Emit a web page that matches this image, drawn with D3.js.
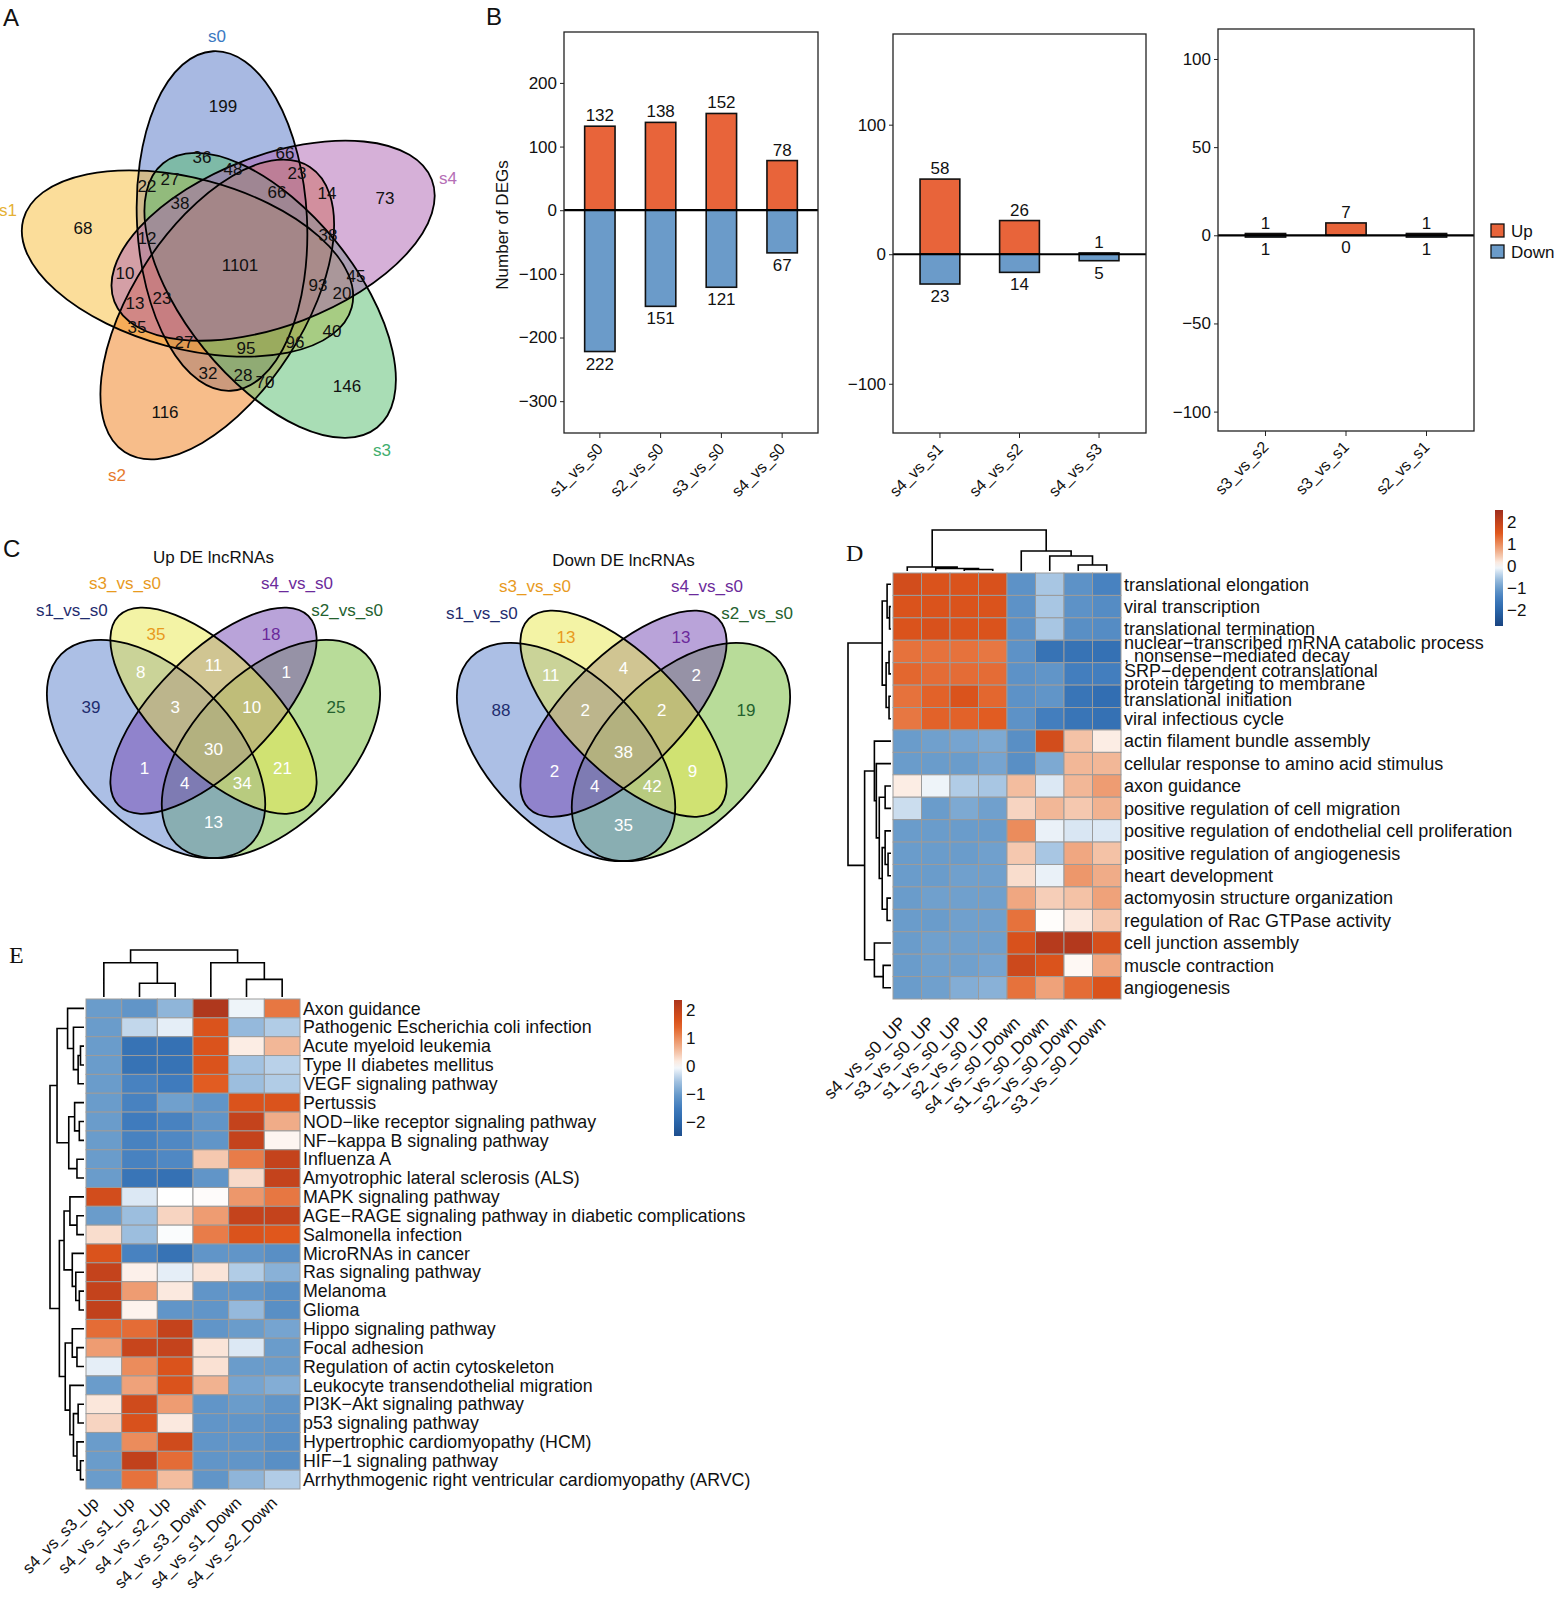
<!DOCTYPE html>
<html lang="en">
<head>
  <meta charset="UTF-8">
  <title>DEG overview</title>
  <script src="https://cdn.jsdelivr.net/npm/d3@7"></script>
  <style>
    body { margin: 0; background: #fff; }
    svg text { font-family: "Liberation Sans", Arial, sans-serif; fill: #111; }
    .letter { font-size: 24px; }
    .serif { font-family: "Liberation Serif", "Times New Roman", serif !important; }
    .axis path { display: none; }
    .axis line { stroke: #222; }
  </style>
</head>
<body>
<svg width="1558" height="1600"></svg>
<script>
// ---------------- data ----------------
// A: five-set venn (region counts, read top to bottom)
var setsA = ["s0", "s4", "s3", "s2", "s1"];
var countsA = [199, 36, 66, 48, 23, 22, 27, 66, 14, 73, 38, 68, 38, 12, 1101, 10, 45, 93, 20, 13, 23, 35, 40, 27, 95, 96, 32, 28, 70, 146, 116];

// B: DEG counts
var groupsB1 = ["s1_vs_s0", "s2_vs_s0", "s3_vs_s0", "s4_vs_s0"];
var upB1 = [132, 138, 152, 78];
var downB1 = [222, 151, 121, 67];
var groupsB2 = ["s4_vs_s1", "s4_vs_s2", "s4_vs_s3"];
var upB2 = [58, 26, 1];
var downB2 = [23, 14, 5];
var groupsB3 = ["s3_vs_s2", "s3_vs_s1", "s2_vs_s1"];
var upB3 = [1, 7, 1];
var downB3 = [1, 0, 1];

// C: four-set venns (VennDiagram region order)
var setsC = ["s1_vs_s0", "s3_vs_s0", "s4_vs_s0", "s2_vs_s0"];
var upC = [35, 11, 18, 8, 3, 30, 10, 1, 39, 1, 4, 13, 34, 21, 25];
var downC = [13, 4, 13, 11, 2, 38, 2, 2, 88, 2, 4, 35, 42, 9, 19];

// D: GO heatmap
var colsD = ["s4_vs_s0_UP", "s3_vs_s0_UP", "s1_vs_s0_UP", "s2_vs_s0_UP", "s4_vs_s0_Down", "s1_vs_s0_Down", "s2_vs_s0_Down", "s3_vs_s0_Down"];
var termsD = [
  "translational elongation",
  "viral transcription",
  "translational termination",
  "nuclear\u2212transcribed mRNA catabolic process\n, nonsense\u2212mediated decay",
  "SRP\u2212dependent cotranslational\nprotein targeting to membrane",
  "translational initiation",
  "viral infectious cycle",
  "actin filament bundle assembly",
  "cellular response to amino acid stimulus",
  "axon guidance",
  "positive regulation of cell migration",
  "positive regulation of endothelial cell proliferation",
  "positive regulation of angiogenesis",
  "heart development",
  "actomyosin structure organization",
  "regulation of Rac GTPase activity",
  "cell junction assembly",
  "muscle contraction",
  "angiogenesis"
];
var valuesD = [
  [1.75, 1.6, 1.6, 1.65, -1.15, -0.5, -1.15, -1.4],
  [1.6, 1.6, 1.6, 1.6, -1.15, -0.5, -1.15, -1.25],
  [1.6, 1.65, 1.6, 1.6, -1.15, -0.5, -1.2, -1.25],
  [1.25, 1.25, 1.25, 1.2, -1.15, -1.7, -1.7, -1.75],
  [1.35, 1.3, 1.3, 1.3, -1.15, -1.1, -1.45, -1.45],
  [1.25, 1.4, 1.6, 1.35, -1.15, -1.1, -1.65, -1.8],
  [1.2, 1.4, 1.4, 1.45, -1.15, -1.45, -1.65, -1.75],
  [-1.0, -0.95, -0.9, -0.85, -1.2, 1.75, 0.5, 0.15],
  [-1.0, -1.0, -1.0, -0.9, -1.2, -0.85, 0.6, 0.6],
  [0.15, -0.1, -0.45, -0.5, 0.55, -0.2, 0.6, 0.85],
  [-0.3, -1.0, -0.85, -0.95, 0.35, 0.6, 0.45, 0.65],
  [-1.0, -1.0, -1.0, -1.0, 1.0, -0.12, -0.22, -0.2],
  [-1.0, -1.0, -1.0, -0.95, 0.45, -0.5, 0.75, 0.5],
  [-1.0, -1.0, -0.95, -0.95, 0.28, -0.12, 0.9, 0.7],
  [-1.0, -0.95, -0.95, -0.95, 0.75, 0.4, 0.5, 0.8],
  [-1.0, -1.0, -0.95, -0.95, 1.25, 0.02, 0.18, 0.45],
  [-1.0, -0.95, -0.95, -0.95, 1.65, 2.2, 2.25, 1.7],
  [-1.0, -0.95, -0.95, -0.9, 1.85, 1.6, 0.06, 0.75],
  [-1.0, -0.95, -0.8, -0.75, 1.25, 0.8, 1.3, 1.6]
];
// trees as [mergeHeight, left, right], leaves are row/col indices
var colTreeD = [41, [4, 0, [2.5, 1, [1.5, 2, 3]]], [20, 4, [15, 5, [6, 6, 7]]]];
var rowTreeD = [44,
  [9, [4, 0, [1.5, 1, 2]], [5, [2, 3, 4], [2, 5, 6]]],
  [27, [17, 7, [15, 8, [12, [6, 9, 10], [9, [6, 11, [3, 12, 13]], [4, 14, 15]]]]], [17, 16, [8, 17, 18]]]];

// E: KEGG heatmap
var colsE = ["s4_vs_s3_Up", "s4_vs_s1_Up", "s4_vs_s2_Up", "s4_vs_s3_Down", "s4_vs_s1_Down", "s4_vs_s2_Down"];
var termsE = [
  "Axon guidance",
  "Pathogenic Escherichia coli infection",
  "Acute myeloid leukemia",
  "Type II diabetes mellitus",
  "VEGF signaling pathway",
  "Pertussis",
  "NOD\u2212like receptor signaling pathway",
  "NF\u2212kappa B signaling pathway",
  "Influenza A",
  "Amyotrophic lateral sclerosis (ALS)",
  "MAPK signaling pathway",
  "AGE\u2212RAGE signaling pathway in diabetic complications",
  "Salmonella infection",
  "MicroRNAs in cancer",
  "Ras signaling pathway",
  "Melanoma",
  "Glioma",
  "Hippo signaling pathway",
  "Focal adhesion",
  "Regulation of actin cytoskeleton",
  "Leukocyte transendothelial migration",
  "PI3K\u2212Akt signaling pathway",
  "p53 signaling pathway",
  "Hypertrophic cardiomyopathy (HCM)",
  "HIF\u22121 signaling pathway",
  "Arrhythmogenic right ventricular cardiomyopathy (ARVC)"
];
var valuesE = [
  [-1.0, -1.1, -0.7, 2.3, -0.1, 1.2],
  [-1.0, -0.35, -0.15, 1.6, -0.65, -0.45],
  [-1.0, -1.7, -1.75, 1.6, 0.15, 0.6],
  [-1.0, -1.7, -1.7, 1.6, -0.55, -0.4],
  [-1.0, -1.4, -1.5, 1.45, -0.6, -0.45],
  [-1.0, -1.4, -0.95, -1.1, 1.6, 1.6],
  [-1.0, -1.5, -1.4, -1.1, 2.0, 0.7],
  [-1.0, -1.4, -1.3, -1.1, 2.0, 0.08],
  [-1.0, -1.4, -1.3, 0.45, 1.15, 2.0],
  [-1.0, -1.65, -1.75, -1.1, 0.3, 2.0],
  [1.75, -0.2, 0.0, 0.03, 0.9, 1.2],
  [-1.0, -0.6, 0.35, 0.85, 2.0, 2.0],
  [0.28, -0.6, -0.03, 1.15, 1.6, 1.5],
  [1.6, -1.4, -1.7, -1.1, -1.1, -1.2],
  [2.0, 0.12, -0.15, 0.22, -0.45, -0.75],
  [2.0, 0.85, 0.18, -1.1, -1.1, -1.2],
  [2.05, 0.1, -1.1, -1.1, -0.65, -1.2],
  [1.3, 1.3, 2.0, -1.1, -1.0, -0.9],
  [0.85, 1.95, 2.0, 0.22, -0.2, -1.0],
  [-0.15, 1.0, 1.6, 0.25, -1.0, -1.0],
  [-1.0, 0.8, 1.6, 0.65, -0.9, -0.8],
  [0.2, 1.8, 0.85, -1.1, -1.0, -1.1],
  [0.35, 1.65, 0.18, -1.1, -1.1, -1.15],
  [-1.0, 1.0, 1.8, -1.1, -1.1, -1.2],
  [-1.0, 2.05, 1.3, -1.1, -1.1, -1.2],
  [-1.0, 1.25, 0.55, -1.1, -0.7, -0.45]
];
var colTreeE = [48, [35, 0, [14, 1, 2]], [35, 3, [18, 4, 5]]];
var rowTreeE = [29,
  [23, [14, 0, [9, 1, [5, [3, 2, 3], 4]]], [13, [8, 5, [4, 6, 7]], [6, 8, 9]]],
  [21, [17, [12, 10, [6, 11, 12]], [10, 13, [7, 14, [4, 15, 16]]]],
       [16, [10, 17, [6, 18, 19]], [12, 20, [9, [5, 21, 22], [6, 23, [3, 24, 25]]]]]]];

// ---------------- layout ----------------
var svg = d3.select("svg");
svg.append("rect").attr("width", 1558).attr("height", 1600).attr("fill", "#fff");
var defs = svg.append("defs");

var upColor = "#e8643a", downColor = "#6b9bc9";

var heatColor = d3.scaleLinear()
  .domain([-2.8, -2, -1.5, -1, -0.5, 0, 0.5, 1, 1.5, 2, 2.6])
  .range(["#17407c", "#2a66aa", "#3f7bbd", "#6a9ccb", "#a8c6e3", "#ffffff", "#f4c2a6", "#eb8c5c", "#e0571c", "#c4431c", "#9a2c1e"])
  .clamp(true);

// panel letters
[["A", 3, 26, false], ["B", 486, 25, false], ["C", 3, 557, false], ["D", 846, 561, true], ["E", 9, 963, true]]
  .forEach(function(l) {
    svg.append("text").attr("class", "letter" + (l[3] ? " serif" : ""))
      .attr("x", l[1]).attr("y", l[2]).text(l[0]);
  });

// ---------- A ----------
var colorsA = {s0: "#5173c5", s4: "#ad61b1", s3: "#53bb6b", s2: "#ef7b15", s1: "#f7bb35"};
var labelColorsA = {s0: "#3b78c2", s4: "#b56fb6", s3: "#3fae6e", s2: "#e67b2e", s1: "#e5b135"};
var fillOrderA = ["s0", "s1", "s2", "s3", "s4"];
var centerA = [234, 266], offA = [-12, -45], rxA = 170, ryA = 85, angleA = -93;
var ellA = setsA.map(function(s, k) {
  var t = k * 72 * Math.PI / 180;
  return {
    set: s,
    cx: centerA[0] + offA[0] * Math.cos(t) - offA[1] * Math.sin(t),
    cy: centerA[1] + offA[0] * Math.sin(t) + offA[1] * Math.cos(t),
    rot: angleA + 72 * k
  };
});
var ellAFill = ellA.slice().sort(function(a, b) { return fillOrderA.indexOf(a.set) - fillOrderA.indexOf(b.set); });
var gA = svg.append("g");
gA.selectAll("ellipse.fill").data(ellAFill).join("ellipse").attr("class", "fill")
  .attr("cx", function(d) { return d.cx; }).attr("cy", function(d) { return d.cy; })
  .attr("rx", rxA).attr("ry", ryA)
  .attr("transform", function(d) { return "rotate(" + d.rot + "," + d.cx + "," + d.cy + ")"; })
  .attr("fill", function(d) { return colorsA[d.set]; }).attr("fill-opacity", 0.5);
gA.selectAll("ellipse.line").data(ellA).join("ellipse").attr("class", "line")
  .attr("cx", function(d) { return d.cx; }).attr("cy", function(d) { return d.cy; })
  .attr("rx", rxA).attr("ry", ryA)
  .attr("transform", function(d) { return "rotate(" + d.rot + "," + d.cx + "," + d.cy + ")"; })
  .attr("fill", "none").attr("stroke", "#000").attr("stroke-width", 1.8);

// label spots for the 31 regions (like VennDiagram's label matrix)
var spotsA = [[223,106],[202,157],[285,153],[233,169],[297,173],[147,186],[170,179],[277,192],[327,193],[385,198],
  [180,203],[83,228],[328,235],[147,238],[240,265],[125,273],[356,276],[318,285],[342,293],[135,303],[162,298],
  [137,327],[332,331],[184,342],[246,348],[295,342],[208,373],[243,375],[265,382],[347,386],[165,412]];
gA.selectAll("text.n").data(countsA).join("text")
  .attr("x", function(d, i) { return spotsA[i][0]; })
  .attr("y", function(d, i) { return spotsA[i][1]; })
  .attr("dy", "0.35em").attr("text-anchor", "middle").style("font-size", "17px")
  .text(function(d) { return d; });
var setSpotsA = {s0: [217, 36], s4: [448, 178], s1: [8, 210], s2: [117, 475], s3: [382, 450]};
setsA.forEach(function(s) {
  gA.append("text").attr("x", setSpotsA[s][0]).attr("y", setSpotsA[s][1]).attr("dy", "0.35em")
    .attr("text-anchor", "middle").style("font-size", "17px").style("fill", labelColorsA[s]).text(s);
});

// ---------- B ----------
function drawBars(p) {
  var g = svg.append("g");
  var x = d3.scaleBand().domain(p.groups).range([p.left, p.right]).paddingInner(0.5).paddingOuter(0.34);
  var y = d3.scaleLinear().domain(p.domain).range([p.bottom, p.top]);
  g.selectAll("rect.up").data(p.up).join("rect")
    .attr("x", function(d, i) { return x(p.groups[i]); }).attr("width", x.bandwidth())
    .attr("y", function(d) { return y(d); }).attr("height", function(d) { return y(0) - y(d); })
    .attr("fill", upColor).attr("stroke", "#111").attr("stroke-width", 1.6);
  g.selectAll("rect.down").data(p.down).join("rect")
    .attr("x", function(d, i) { return x(p.groups[i]); }).attr("width", x.bandwidth())
    .attr("y", y(0)).attr("height", function(d) { return y(-d) - y(0); })
    .attr("fill", downColor).attr("stroke", "#111").attr("stroke-width", 1.6);
  g.append("line").attr("x1", p.left).attr("x2", p.right).attr("y1", y(0)).attr("y2", y(0))
    .attr("stroke", "#000").attr("stroke-width", 2.2);
  g.selectAll("text.uplab").data(p.up).join("text")
    .attr("x", function(d, i) { return x(p.groups[i]) + x.bandwidth() / 2; })
    .attr("y", function(d) { return y(d) - 5; })
    .attr("text-anchor", "middle").style("font-size", "17px").text(function(d) { return d; });
  g.selectAll("text.downlab").data(p.down).join("text")
    .attr("x", function(d, i) { return x(p.groups[i]) + x.bandwidth() / 2; })
    .attr("y", function(d) { return y(-d) + 18; })
    .attr("text-anchor", "middle").style("font-size", "17px").text(function(d) { return d; });
  g.append("rect").attr("x", p.left).attr("y", p.top).attr("width", p.right - p.left).attr("height", p.bottom - p.top)
    .attr("fill", "none").attr("stroke", "#222").attr("stroke-width", 1.3);
  var ay = g.append("g").attr("class", "axis").attr("transform", "translate(" + p.left + ",0)")
    .call(d3.axisLeft(y).tickValues(p.ticks).tickSize(4).tickPadding(3));
  ay.selectAll("text").style("font-size", "17px").style("fill", "#111");
  var ax = g.append("g").attr("class", "axis").attr("transform", "translate(0," + p.bottom + ")")
    .call(d3.axisBottom(x).tickSize(5));
  ax.selectAll("text").attr("x", null).attr("y", null).attr("dy", null)
    .attr("transform", "translate(4,17) rotate(-45)")
    .attr("text-anchor", "end").style("font-size", "16px").style("fill", "#111");
  return g;
}
drawBars({groups: groupsB1, up: upB1, down: downB1, left: 564, right: 818, top: 32, bottom: 433,
  domain: [-350, 280], ticks: [-300, -200, -100, 0, 100, 200]});
drawBars({groups: groupsB2, up: upB2, down: downB2, left: 893, right: 1146, top: 34, bottom: 433,
  domain: [-138, 170], ticks: [-100, 0, 100]});
drawBars({groups: groupsB3, up: upB3, down: downB3, left: 1218, right: 1474, top: 29, bottom: 431,
  domain: [-111, 117], ticks: [-100, -50, 0, 50, 100]});
svg.append("text").attr("transform", "translate(508,225) rotate(-90)").attr("text-anchor", "middle")
  .style("font-size", "17px").text("Number of DEGs");
var legB = svg.append("g").attr("transform", "translate(1491,224)");
[["Up", upColor], ["Down", downColor]].forEach(function(d, i) {
  legB.append("rect").attr("x", 0).attr("y", i * 21).attr("width", 13).attr("height", 13)
    .attr("fill", d[1]).attr("stroke", "#111").attr("stroke-width", 1.3);
  legB.append("text").attr("x", 20).attr("y", i * 21 + 13).style("font-size", "17px").text(d[0]);
});

// ---------- C ----------
var colorsC = ["#5a7fcc", "#e7e74b", "#7347b3", "#71b933"];
var labelColorsC = ["#1f2d6e", "#e89a1e", "#6b2a9b", "#24612e"];
var fillOrderC = [3, 0, 2, 1];
var ellipsesC = [[0.35, 0.47, 0.35, 0.20, 135], [0.50, 0.57, 0.35, 0.15, 135], [0.50, 0.57, 0.35, 0.15, 45], [0.65, 0.47, 0.35, 0.20, 45]];
var spotsC = [[0.35, 0.77, 1], [0.5, 0.69], [0.65, 0.77, 2], [0.31, 0.67], [0.4, 0.58], [0.5, 0.47], [0.6, 0.58], [0.69, 0.67],
  [0.18, 0.58, 0], [0.32, 0.42], [0.425, 0.38], [0.5, 0.28], [0.575, 0.38], [0.68, 0.42], [0.82, 0.58, 3]];
var setSpotsC = [[0.13, 0.833], [0.269, 0.903], [0.718, 0.903], [0.849, 0.833]];

function drawVenn4(counts, title, x0, y0) {
  var s = 383;
  var px = function(u) { return x0 + u * s; }, py = function(v) { return y0 - v * s; };
  var g = svg.append("g");
  var fills = fillOrderC.map(function(i) { return {e: ellipsesC[i], c: colorsC[i]}; });
  var lines = ellipsesC.map(function(e) { return {e: e, c: "none"}; });
  [["fill", fills], ["line", lines]].forEach(function(kind) {
    g.selectAll("ellipse." + kind[0]).data(kind[1]).join("ellipse").attr("class", kind[0])
      .attr("cx", function(d) { return px(d.e[0]); }).attr("cy", function(d) { return py(d.e[1]); })
      .attr("rx", function(d) { return d.e[2] * s; }).attr("ry", function(d) { return d.e[3] * s; })
      .attr("transform", function(d) { return "rotate(" + (-d.e[4]) + "," + px(d.e[0]) + "," + py(d.e[1]) + ")"; })
      .attr("fill", function(d) { return d.c; })
      .attr("fill-opacity", 0.5)
      .attr("stroke", kind[0] === "line" ? "#000" : "none").attr("stroke-width", 1.8);
  });
  g.selectAll("text.n").data(counts).join("text")
    .attr("x", function(d, i) { return px(spotsC[i][0]); })
    .attr("y", function(d, i) { return py(spotsC[i][1]); })
    .attr("dy", "0.35em").attr("text-anchor", "middle").style("font-size", "17px")
    .style("fill", function(d, i) { return spotsC[i].length > 2 ? labelColorsC[spotsC[i][2]] : "#fff"; })
    .text(function(d) { return d; });
  setsC.forEach(function(name, i) {
    g.append("text").attr("x", px(setSpotsC[i][0])).attr("y", py(setSpotsC[i][1])).attr("dy", "0.35em")
      .attr("text-anchor", "middle").style("font-size", "17px").style("fill", labelColorsC[i]).text(name);
  });
  g.append("text").attr("x", px(0.5)).attr("y", py(0.971)).attr("dy", "0.35em")
    .attr("text-anchor", "middle").style("font-size", "17px").text(title);
}
drawVenn4(upC, "Up DE lncRNAs", 22, 929);
drawVenn4(downC, "Down DE lncRNAs", 432, 932);

// ---------- heatmaps ----------
function dendro(g, tree, leafPos, hPos, vertical) {
  var path = "";
  function walk(node) {
    if (typeof node === "number") return {p: leafPos(node), h: 0};
    var l = walk(node[1]), r = walk(node[2]), h = node[0];
    if (vertical) {
      path += "M" + l.p + "," + hPos(l.h) + "V" + hPos(h) + "H" + r.p + "V" + hPos(r.h);
    } else {
      path += "M" + hPos(l.h) + "," + l.p + "H" + hPos(h) + "V" + r.p + "H" + hPos(r.h);
    }
    return {p: (l.p + r.p) / 2, h: h};
  }
  walk(tree);
  g.append("path").attr("d", path).attr("fill", "none").attr("stroke", "#000").attr("stroke-width", 1.6);
}

function drawHeatmap(p) {
  var g = svg.append("g");
  var x = d3.scaleBand().domain(d3.range(p.cols.length)).range([p.left, p.right]);
  var y = d3.scaleBand().domain(d3.range(p.rows.length)).range([p.top, p.bottom]);
  var cells = [];
  p.values.forEach(function(r, i) { r.forEach(function(v, j) { cells.push({i: i, j: j, v: v}); }); });
  g.selectAll("rect.cell").data(cells).join("rect")
    .attr("x", function(d) { return x(d.j); }).attr("y", function(d) { return y(d.i); })
    .attr("width", x.bandwidth()).attr("height", y.bandwidth())
    .attr("fill", function(d) { return heatColor(d.v); })
    .attr("stroke", "#9b9b9b").attr("stroke-width", 1);

  var nudge = p.nudge || {};
  g.selectAll("text.row").data(p.rows).join("text")
    .attr("x", p.right + 3)
    .attr("y", function(d, i) { return y(i) + y.bandwidth() / 2 + (nudge[i] || 0); })
    .style("font-size", p.fontSize + "px")
    .each(function(d) {
      var lines = d.split("\n"), t = d3.select(this);
      lines.forEach(function(s, k) {
        t.append("tspan").attr("x", p.right + 3)
          .attr("dy", k === 0 ? (0.35 * p.fontSize - (lines.length - 1) * 12.5 / 2) : 12.5)
          .text(s);
      });
    });

  g.selectAll("text.col").data(p.cols).join("text")
    .attr("transform", function(d, j) {
      return "translate(" + (x(j) + x.bandwidth() / 2 + p.colOff[0]) + "," + (p.bottom + p.colOff[1]) + ") rotate(-45)";
    })
    .attr("text-anchor", "end").style("font-size", p.colFont + "px")
    .text(function(d) { return d; });

  var hc = d3.scaleLinear().domain([0, p.colTree[0]]).range([p.top - 2, p.colTop]);
  dendro(g, p.colTree, function(j) { return x(j) + x.bandwidth() / 2; }, hc, true);
  var hr = d3.scaleLinear().domain([0, p.rowTree[0]]).range([p.left - 2, p.rowLeft]);
  dendro(g, p.rowTree, function(i) { return y(i) + y.bandwidth() / 2; }, hr, false);

  // colour key
  var lg = p.legend;
  var ly = d3.scaleLinear().domain(lg.range).range([lg.bottom, lg.top]);
  var grad = defs.append("linearGradient").attr("id", p.id)
    .attr("x1", 0).attr("y1", 1).attr("x2", 0).attr("y2", 0);
  d3.range(0, 1.0001, 0.05).forEach(function(t) {
    grad.append("stop").attr("offset", t)
      .attr("stop-color", heatColor(lg.range[0] + t * (lg.range[1] - lg.range[0])));
  });
  g.append("rect").attr("x", lg.x).attr("y", lg.top).attr("width", 8).attr("height", lg.bottom - lg.top)
    .attr("fill", "url(#" + p.id + ")");
  g.selectAll("text.key").data([-2, -1, 0, 1, 2]).join("text")
    .attr("x", lg.x + 12).attr("y", function(d) { return ly(d); }).attr("dy", "0.35em")
    .style("font-size", "17px").text(d3.format("d"));
}

drawHeatmap({id: "keyD", rows: termsD, cols: colsD, values: valuesD, colTree: colTreeD, rowTree: rowTreeD,
  left: 893, right: 1121, top: 573, bottom: 999, colTop: 530, rowLeft: 848, fontSize: 18, colFont: 17.5,
  nudge: {3: -2.5, 4: 3.5, 5: 3}, colOff: [0, 25],
  legend: {x: 1495, top: 510, bottom: 626, range: [-2.73, 2.55]}});
drawHeatmap({id: "keyE", rows: termsE, cols: colsE, values: valuesE, colTree: colTreeE, rowTree: rowTreeE,
  left: 86, right: 300, top: 999, bottom: 1489, colTop: 950, rowLeft: 50, fontSize: 17.8, colFont: 16.5,
  colOff: [-4, 15],
  legend: {x: 674, top: 1000, bottom: 1136, range: [-2.5, 2.36]}});
</script>
</body>
</html>
